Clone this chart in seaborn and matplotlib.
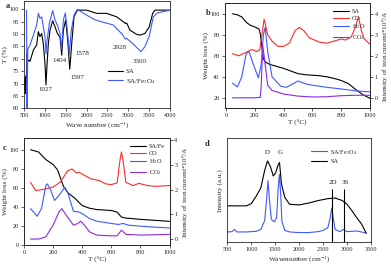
import numpy as np
import pandas as pd
import seaborn as sns
import matplotlib
matplotlib.use("Agg")
import matplotlib.pyplot as plt

# ---- panel a: FTIR ----
ftir_sa_x = [500, 510, 520, 530, 540, 555, 570, 590, 620, 644, 680, 724, 780, 804, 844, 883, 924, 963,
             1003, 1027, 1050, 1083, 1123, 1187, 1243, 1299, 1363, 1404, 1443, 1499, 1547, 1597, 1651,
             1699, 1779, 2002, 2242, 2482, 2721, 2881, 2928, 2960, 3041, 3200, 3280, 3400, 3504, 3584,
             3640, 4000]
ftir_sa_y = [72, 68, 72, 66, 73, 70, 82, 79, 79.5, 79, 81, 83.5, 85, 85.6, 91, 89, 90.3, 86,
             78, 69.4, 77, 86, 91.6, 95.4, 93, 90.3, 88.7, 81.5, 91.6, 95.7, 87.6, 75.8, 87.6,
             97, 99.7, 99.7, 98.4, 98.4, 97, 95, 94.3, 94.5, 91.6, 89.9, 89.6, 90.3, 93, 98.4,
             99.7, 99.7]
ftir_fe_x = [560, 572, 590, 644, 724, 804, 844, 883, 924, 963, 1003, 1027, 1043, 1107, 1187, 1243,
             1299, 1363, 1400, 1443, 1491, 1547, 1585, 1635, 1699, 1779, 2000, 2200, 2400, 2640,
             2850, 2928, 2960, 3100, 3305, 3400, 3500, 3600, 3700, 4000]
ftir_fe_y = [99.7, 58, 84, 85.6, 89.6, 93.7, 98.4, 96.4, 97, 93, 89, 82, 86, 94.3, 99.5, 95.7,
             93.7, 90.3, 83.8, 95.7, 98.6, 90.3, 82, 91.6, 97.7, 100, 97.7, 95.8, 94.8, 93.7,
             90, 88, 88.3, 86.3, 82.9, 85, 89, 97, 98.6, 99.7]
ftir_labels = ["1027", "1404", "1578", "1597", "2928", "3300"]
ftir_label_pos = [(1020, 67.5), (1363, 79.5), (1890, 82.3), (1770, 72.6), (2801, 84.4), (3280, 79.1)]

# ---- panel b: TG-MS of SA ----
b_sa_t = [45, 80, 110, 140, 170, 200, 230, 240, 250, 260, 275, 300, 350, 400, 450, 500, 550, 600,
          650, 700, 750, 800, 850, 900, 950, 1000]
b_sa_w = [100, 99, 97, 92, 89, 87.5, 85.5, 80, 68, 57, 54, 52, 50, 48, 45.5, 43, 42, 41.5,
          41, 40, 38.5, 36.5, 33.5, 28, 23, 19.5]
b_co_t = [45, 90, 150, 180, 215, 235, 250, 265, 290, 320, 360, 400, 440, 480, 510, 540, 580, 650,
          700, 750, 800, 830, 870, 900, 920, 940, 960, 1000]
b_co_i = [2.1, 2.0, 2.2, 2.3, 2.2, 2.3, 3.0, 3.75, 3.0, 2.7, 2.45, 2.45, 2.6, 3.2, 3.35, 3.2, 2.85, 2.65,
          2.6, 2.7, 2.8, 2.75, 2.9, 3.4, 3.85, 3.2, 2.8, 2.55]
b_h2o_t = [45, 80, 110, 140, 160, 190, 225, 245, 260, 272, 290, 320, 380, 420, 500, 560, 600, 700,
           800, 900, 1000]
b_h2o_i = [0.7, 0.52, 1.0, 2.1, 2.2, 1.6, 0.95, 1.6, 3.0, 3.35, 2.2, 1.0, 0.55, 0.5, 0.8, 0.65, 0.6,
           0.5, 0.42, 0.33, 0.28]
b_co2_t = [45, 100, 200, 238, 245, 255, 265, 290, 320, 400, 500, 600, 700, 800, 900, 1000]
b_co2_i = [0.0, 0.0, 0.0, 0.02, 0.6, 2.5, 2.0, 0.6, 0.35, 0.18, 0.08, 0.04, 0.05, 0.1, 0.12, 0.12]

# ---- panel c: TG-MS of SA/Fe ----
c_sa_t = [45, 100, 150, 200, 230, 250, 270, 300, 350, 400, 450, 500, 600, 640, 670, 700, 800, 900, 1000]
c_sa_w = [100, 97.6, 89.7, 84.5, 79, 70.7, 62, 55, 49, 41.4, 38.6, 37.2, 36.2, 34.5, 29.3, 28.3, 26.9,
          25.9, 24.8]
c_co_t = [45, 80, 130, 200, 250, 300, 330, 360, 380, 420, 460, 520, 560, 600, 640, 660, 670, 680, 700,
          750, 790, 850, 900, 1000]
c_co_i = [2.29, 1.96, 2.0, 2.1, 2.3, 2.76, 2.83, 2.67, 2.69, 2.56, 2.43, 2.36, 2.23, 2.2, 2.27, 3.2,
          3.52, 3.2, 2.29, 2.16, 2.25, 2.16, 2.13, 2.16]
c_h2o_t = [45, 90, 120, 150, 160, 180, 210, 240, 280, 300, 340, 380, 410, 450, 500, 600, 650, 680, 720,
           800, 900, 1000]
c_h2o_i = [1.23, 0.92, 1.23, 2.16, 2.23, 2.03, 1.56, 1.76, 2.09, 1.89, 1.12, 1.09, 0.99, 0.83, 0.72,
           0.63, 0.59, 0.63, 0.56, 0.52, 0.48, 0.45]
c_co2_t = [45, 100, 150, 200, 240, 260, 290, 340, 370, 390, 420, 450, 500, 600, 640, 670, 700, 800, 1000]
c_co2_i = [0.0, 0.0, 0.09, 0.56, 1.09, 1.23, 0.96, 0.56, 0.63, 0.72, 0.53, 0.29, 0.16, 0.13, 0.13, 0.36,
           0.19, 0.16, 0.19]

# ---- panel d: Raman ----
raman_sa_x = [500, 900, 1000, 1100, 1200, 1280, 1340, 1400, 1460, 1510, 1560, 1590, 1630, 1700, 1800,
              2000, 2200, 2400, 2600, 2750, 2900, 3000, 3100, 3200, 3300, 3400]
raman_sa_y = [115, 115, 122, 145, 172, 228, 258, 240, 210, 220, 245, 253, 185, 142, 120,
              118, 124, 132, 138, 140, 132, 120, 100, 78, 58, 28]
raman_fe_x = [500, 600, 650, 700, 900, 1100, 1200, 1280, 1320, 1350, 1380, 1420, 1480, 1530, 1560, 1585,
              1610, 1640, 1700, 1800, 2000, 2200, 2400, 2500, 2600, 2650, 2680, 2710, 2750, 2850, 2920,
              3000, 3200, 3300, 3400]
raman_fe_y = [32, 33, 40, 32, 32, 34, 40, 68, 135, 195, 135, 72, 64, 78, 165, 215,
              165, 66, 37, 32, 30, 30, 33, 37, 46, 78, 108, 78, 40, 33, 40,
              33, 35, 32, 28]
raman_bands = ["2D", "3S"]
raman_band_x = [2690, 2930]

BLUE = "#3d5afe"
RED = "#ff2a2a"
PURPLE = "#8a2be2"
LW = 0.8

sns.set_theme(style="ticks")
plt.rcParams["font.family"] = ["Liberation Serif", "DejaVu Serif"]
plt.rcParams["mathtext.fontset"] = "stix"
plt.rcParams["axes.linewidth"] = 0.6
for k in ["xtick", "ytick"]:
    plt.rcParams[k + ".major.size"] = 2
    plt.rcParams[k + ".major.width"] = 0.5
    plt.rcParams[k + ".major.pad"] = 1.5
    plt.rcParams[k + ".labelsize"] = 4.5

W, H = 391, 271
fig = plt.figure(figsize=(W / 100, H / 100), dpi=100)


def rect(l, r, t, b):
    return [l / W, 1 - b / H, (r - l) / W, (b - t) / H]


LAB = 5.2

# panel a
ax = fig.add_axes(rect(24, 170, 1, 108.3))
sns.lineplot(x=ftir_sa_x, y=ftir_sa_y, ax=ax, color="black", lw=LW, label="SA")
sns.lineplot(x=ftir_fe_x, y=ftir_fe_y, ax=ax, color=BLUE, lw=LW, label="SA/Fe$_3$O$_4$")
ax.set_xlim(500, 4000)
ax.set_ylim(60, 103.4)
ax.set_xticks(range(500, 4001, 500))
ax.set_yticks(range(60, 101, 5))
ax.set_xlabel("Wave number (cm$^{-1}$)", fontsize=LAB, labelpad=1.5)
ax.set_ylabel("T (%)", fontsize=LAB, labelpad=1)
for s, (tx, ty) in zip(ftir_labels, ftir_label_pos):
    ax.text(tx, ty, s, fontsize=5, ha="center", va="center")
ax.legend(loc="center left", bbox_to_anchor=(0.55, 0.29), frameon=False, fontsize=5,
          handlelength=2.2, handletextpad=0.4, labelspacing=0.35, borderpad=0)
fig.text(8 / W, 1 - 6 / H, "a", fontsize=6, fontweight="bold", ha="center", va="center")


def tg_panel(r, t_sa, w_sa, sa_label, t_co, i_co, t_h2o, i_h2o, t_co2, i_co2, ylim, rlim, rticks):
    ax = fig.add_axes(r)
    ax2 = ax.twinx()
    sns.lineplot(x=t_sa, y=w_sa, ax=ax, color="black", lw=LW, legend=False)
    sns.lineplot(x=t_co, y=i_co, ax=ax2, color=RED, lw=LW, legend=False)
    sns.lineplot(x=t_h2o, y=i_h2o, ax=ax2, color=BLUE, lw=LW, legend=False)
    sns.lineplot(x=t_co2, y=i_co2, ax=ax2, color=PURPLE, lw=LW, legend=False)
    ax.set_ylim(*ylim)
    ax2.set_ylim(*rlim)
    ax2.set_yticks(rticks)
    ax.set_yticks(range(0 if ylim[0] < 10 else 20, 101, 20))
    ax.set_xticks(range(0, 1001, 200))
    ax.set_xlabel("T (\u00b0C)", fontsize=LAB, labelpad=1.5)
    ax.set_ylabel("Weight loss (%)", fontsize=LAB, labelpad=1)
    ax2.set_ylabel("Intensity of iron current*10$^9$/A", fontsize=LAB, labelpad=2)
    handles = [ax.lines[0]] + ax2.lines[:3]
    labels = [sa_label, "CO", "H$_2$O", "CO$_2$"]
    ax2.legend(handles, labels, loc="upper right", bbox_to_anchor=(0.99, 0.98), frameon=False,
               fontsize=4.5, handlelength=2.6, handletextpad=0.5, labelspacing=0.25, borderpad=0)
    return ax, ax2


axb, axb2 = tg_panel(rect(224.5, 370, 3.3, 108.3), b_sa_t, b_sa_w, "SA", b_co_t, b_co_i,
                     b_h2o_t, b_h2o_i, b_co2_t, b_co2_i, (10, 110), (-0.5, 4.5), range(0, 5))
axb.set_xlim(-10, 1000)
fig.text(208 / W, 1 - 12.7 / H, "b", fontsize=6, fontweight="bold", ha="center", va="center")

axc, axc2 = tg_panel(rect(24, 169.5, 138.3, 245), c_sa_t, c_sa_w, "SA/Fe", c_co_t, c_co_i,
                     c_h2o_t, c_h2o_i, c_co2_t, c_co2_i, (0, 112), (-0.24, 4.07), range(0, 5))
axc.set_xlim(0, 1000)
fig.text(5 / W, 1 - 148 / H, "c", fontsize=6, fontweight="bold", ha="center", va="center")

# panel d
axd = fig.add_axes(rect(227.3, 371, 138.3, 242))
sns.lineplot(x=raman_fe_x, y=raman_fe_y, ax=axd, color=BLUE, lw=LW, label="SA/Fe$_3$O$_4$")
sns.lineplot(x=raman_sa_x, y=raman_sa_y, ax=axd, color="black", lw=LW, label="SA")
axd.set_xlim(500, 3500)
axd.set_ylim(0, 330)
axd.set_xticks(range(500, 3501, 500))
axd.set_yticks([])
for s, bx in zip(raman_bands, raman_band_x):
    axd.vlines(bx, 0, 170, color="black", lw=0.8)
axd.text(2700, 188, "2D", fontsize=5, ha="center", va="center")
axd.text(2965, 188, "3S", fontsize=5, ha="center", va="center")
axd.text(1330, 285, "D", fontsize=5, ha="center", va="center")
axd.text(1600, 285, "G", fontsize=5, ha="center", va="center")
axd.set_xlabel("Wavenumber (cm$^{-1}$)", fontsize=LAB, labelpad=1.5)
axd.set_ylabel("Intensity (a.u.)", fontsize=LAB, labelpad=3)
axd.legend(loc="upper right", bbox_to_anchor=(0.93, 0.94), frameon=False, fontsize=4.5,
           handlelength=2.6, handletextpad=0.5, labelspacing=0.3, borderpad=0)
fig.text(207 / W, 1 - 144.3 / H, "d", fontsize=6, fontweight="bold", ha="center", va="center")

fig.savefig("out.png", dpi=100)
